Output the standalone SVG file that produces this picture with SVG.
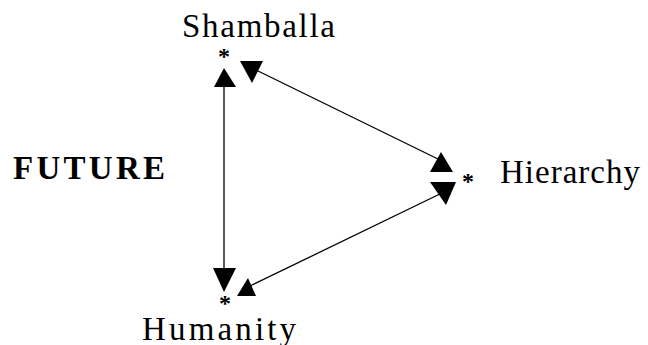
<svg xmlns="http://www.w3.org/2000/svg" width="648" height="345" viewBox="0 0 648 345">
<style>
.lbl{font-family:"Liberation Serif","Times New Roman",serif;font-size:33px;fill:#000}
.b{font-weight:bold}
.ast{font-family:"Liberation Serif",serif;font-size:24px;font-weight:bold;fill:#000;text-anchor:middle}
.ln{stroke:#000;stroke-width:1.3;fill:none}
.hd{fill:#000}
</style>
<rect width="648" height="345" fill="#fff"/>
<g id="connectors">
<line class="ln" x1="224" y1="84" x2="224" y2="272"/>
<line class="ln" x1="256" y1="70" x2="440" y2="160"/>
<line class="ln" x1="444" y1="192" x2="250" y2="286"/>
<polygon class="hd" points="224,68 214,87 236,87"/>
<polygon class="hd" points="240,61 263,61 252,83"/>
<polygon class="hd" points="441,152 430,172 453,172"/>
<polygon class="hd" points="430,182 456,182 446,205"/>
<polygon class="hd" points="213,268 236,268 224,292"/>
<polygon class="hd" points="248,278 237,296 256,296"/>
</g>
<g id="shamballa">
<text class="lbl" x="182" y="37" textLength="153" lengthAdjust="spacing">Shamballa</text>
<text class="ast" x="224" y="64">*</text>
</g>
<g id="hierarchy">
<text class="lbl" x="500" y="183" textLength="140" lengthAdjust="spacing">Hierarchy</text>
<text class="ast" x="468" y="189">*</text>
</g>
<g id="humanity">
<text class="lbl" x="142" y="340" textLength="154" lengthAdjust="spacing">Humanity</text>
<text class="ast" x="225" y="311">*</text>
</g>
<g id="future">
<text class="lbl b" x="13" y="179" textLength="152" lengthAdjust="spacing">FUTURE</text>
</g>
</svg>
